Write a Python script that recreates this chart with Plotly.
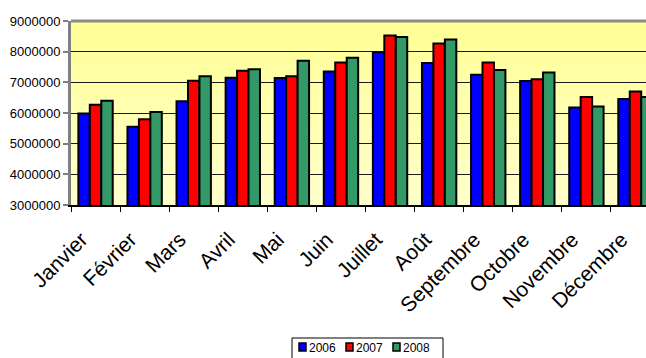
import base64
import struct
import zlib

import plotly.graph_objects as go

# ---------------- data ----------------
months = ["Janvier", "Février", "Mars", "Avril", "Mai", "Juin", "Juillet",
          "Août", "Septembre", "Octobre", "Novembre", "Décembre"]
series_names = ["2006", "2007", "2008"]
v2006 = [5980000, 5550000, 6380000, 7150000, 7140000, 7350000, 7980000,
         7630000, 7250000, 7040000, 6180000, 6460000]
v2007 = [6270000, 5800000, 7050000, 7380000, 7200000, 7650000, 8530000,
         8270000, 7650000, 7100000, 6520000, 6700000]
v2008 = [6400000, 6030000, 7200000, 7430000, 7700000, 7800000, 8480000,
         8400000, 7400000, 7320000, 6210000, 6520000]
series_values = [v2006, v2007, v2008]
colors = ["#0000FF", "#FF0000", "#339966"]
y_ticks = [3000000, 4000000, 5000000, 6000000, 7000000, 8000000, 9000000]

FONT = "Liberation Sans, Arial, sans-serif"
W, H = 646, 358
ML, MR, MT, MB = 71, 0, 21, 153
PW, PH = W - ML - MR, H - MT - MB


def px2x(px):
    return (px - ML) / PW


def px2y(py):
    return (MT + PH - py) / PH


# ---------------- gradient background image ----------------
def gradient_png(top, bottom, h=64, w=2):
    rows = b""
    for r in range(h):
        t = r / (h - 1)
        c = bytes(int(round(top[i] + (bottom[i] - top[i]) * t)) for i in range(3))
        rows += b"\x00" + c * w
    def chunk(tag, data):
        return (struct.pack(">I", len(data)) + tag + data +
                struct.pack(">I", zlib.crc32(tag + data) & 0xFFFFFFFF))
    png = b"\x89PNG\r\n\x1a\n"
    png += chunk(b"IHDR", struct.pack(">IIBBBBB", w, h, 8, 2, 0, 0, 0))
    png += chunk(b"IDAT", zlib.compress(rows))
    png += chunk(b"IEND", b"")
    return "data:image/png;base64," + base64.b64encode(png).decode()


bg_src = gradient_png((255, 255, 150), (255, 255, 204))

# ---------------- figure ----------------
fig = go.Figure()
for name, vals, col in zip(series_names, series_values, colors):
    fig.add_trace(go.Bar(
        x=months, y=vals, name=name,
        marker=dict(color=col, line=dict(color="#000000", width=2)),
        showlegend=False,
    ))

# right edge of the chart is cut off in the reference (last category partly hidden)
x_right = 11 + (646 - 635.5) / 49.0

fig.update_layout(
    width=W, height=H,
    margin=dict(l=ML, r=MR, t=MT, b=MB, pad=0),
    paper_bgcolor="#FFFFFF",
    plot_bgcolor="#FFFFB4",
    barmode="group",
    bargap=0.30,
    bargroupgap=0.0,
    font=dict(family=FONT, color="#000000"),
    xaxis=dict(
        type="category",
        range=[-0.5, x_right],
        tickangle=-45,
        tickfont=dict(size=21, family=FONT, color="#000000"),
        ticklabelstandoff=12,
        ticklabelshift=-14,
        ticks="outside", tickson="boundaries", ticklen=5,
        tickcolor="#000000", tickwidth=1,
        showline=True, linecolor="#000000", linewidth=2,
        showgrid=False,
    ),
    yaxis=dict(
        range=[3000000, 9000000],
        tickvals=y_ticks,
        ticktext=[str(v) for v in y_ticks],
        tickfont=dict(size=13, family=FONT, color="#000000"),
        ticks="outside", ticklen=5, tickcolor="#808080", tickwidth=2,
        showline=True, linecolor="#808080", linewidth=3,
        showgrid=True, gridcolor="#1A1A1A", gridwidth=1,
        zeroline=False,
    ),
    images=[dict(
        source=bg_src, xref="paper", yref="paper",
        x=0, y=1, sizex=1, sizey=1, xanchor="left", yanchor="top",
        sizing="stretch", layer="below",
    )],
)

# top border of the plot area
fig.add_shape(type="line", xref="paper", yref="paper", x0=0, x1=1, y0=1, y1=1,
              line=dict(color="#8C8C8C", width=3))

# ---------------- legend (drawn by hand, Excel style) ----------------
fig.add_shape(type="rect", xref="paper", yref="paper",
              x0=px2x(292), x1=px2x(443), y0=px2y(338), y1=px2y(358.5),
              line=dict(color="#000000", width=1), fillcolor="#FFFFFF")
for i, (name, col) in enumerate(zip(series_names, colors)):
    sx = 299 + 47 * i
    fig.add_shape(type="rect", xref="paper", yref="paper",
                  x0=px2x(sx), x1=px2x(sx + 7), y0=px2y(343), y1=px2y(351),
                  line=dict(color="#000000", width=1.5), fillcolor=col)
    fig.add_annotation(text=name, xref="paper", yref="paper",
                       x=px2x(sx + 8), y=px2y(347.5), xanchor="left", yanchor="middle",
                       showarrow=False, font=dict(size=12, family=FONT, color="#000000"))

fig.write_html("out.html")
